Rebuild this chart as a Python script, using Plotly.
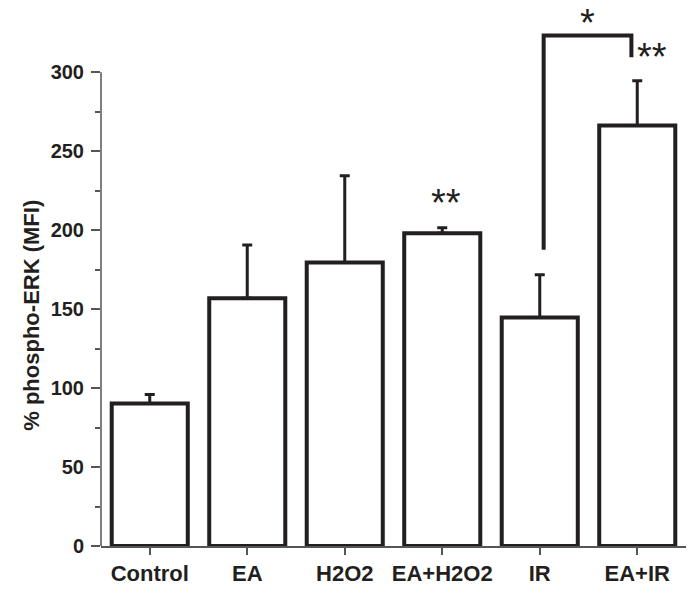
import plotly.graph_objects as go

categories = ["Control", "EA", "H2O2", "EA+H2O2", "IR", "EA+IR"]
means = [90.2, 156.8, 179.5, 198.0, 144.6, 266.2]
err_up = [5.7, 33.8, 55.0, 3.5, 27.1, 28.4]

y_ticks = [0, 50, 100, 150, 200, 250, 300]
y_minor = [25, 75, 125, 175, 225, 275]

# significance markers
sig_labels = ["**", "*", "**"]
sig_x = [3.043, 4.494, 5.156]
sig_y = [217.1, 331.4, 309.4]
bracket_x = [4.04, 4.94]
bracket_y = [187.6, 323.2, 309.5]  # left bottom, top, right bottom

INK = "#231f20"
AX = "#555555"
FONT = "Liberation Sans, Arial, sans-serif"

fig = go.Figure()
fig.add_trace(go.Bar(
    x=list(range(len(categories))), y=means,
    width=0.78,
    marker=dict(color="white", line=dict(color=INK, width=4)),
    error_y=dict(type="data", symmetric=False, array=err_up,
                 arrayminus=[0] * len(means), color=INK, thickness=3, width=5),
    showlegend=False,
))

# bracket
fig.add_shape(type="path",
              path=f"M {bracket_x[0]},{bracket_y[0]} L {bracket_x[0]},{bracket_y[1]} "
                   f"L {bracket_x[1]},{bracket_y[1]} L {bracket_x[1]},{bracket_y[2]}",
              xref="x", yref="y", line=dict(color=INK, width=4))

# y axis line from 0 to 300
fig.add_shape(type="line", xref="paper", yref="y", x0=0, x1=0,
              y0=y_ticks[0], y1=y_ticks[-1], line=dict(color=AX, width=1.5))

for lab, xv, yv in zip(sig_labels, sig_x, sig_y):
    fig.add_annotation(x=xv, y=yv, xref="x", yref="y", text=lab, showarrow=False,
                       font=dict(family=FONT, size=38, color=INK),
                       xanchor="center", yanchor="middle")

fig.add_annotation(x=-0.118, y=0.4306, xref="paper", yref="paper",
                   text="% phospho-ERK (MFI)", textangle=-90, showarrow=False,
                   font=dict(family=FONT, size=22, color=INK, weight="bold"),
                   xanchor="center", yanchor="middle")

fig.update_layout(
    width=695, height=595,
    margin=dict(l=101, r=9, t=9, b=46.5),
    plot_bgcolor="white", paper_bgcolor="white",
    font=dict(family=FONT, color=INK),
    xaxis=dict(range=[-0.5, 5.5], tickmode="array",
               tickvals=list(range(len(categories))), ticktext=categories,
               showline=True, linecolor=AX, linewidth=1.5,
               ticks="outside", ticklen=7, tickwidth=1.5, tickcolor=AX,
               tickfont=dict(family=FONT, size=22, color=INK, weight="bold"),
               showgrid=False, zeroline=False),
    yaxis=dict(range=[0, 340], tickmode="array", tickvals=y_ticks,
               showline=False,
               ticks="outside", ticklen=9, tickwidth=1.5, tickcolor=AX,
               ticklabelstandoff=3,
               tickfont=dict(family=FONT, size=20, color=INK, weight="bold"),
               minor=dict(tickmode="array", tickvals=y_minor, ticks="outside",
                          ticklen=5, tickwidth=1.5, tickcolor=AX, showgrid=False),
               showgrid=False, zeroline=False),
)

fig.write_html("out.html",
               config={"displayModeBar": False},
               post_script="document.body.style.margin='0';document.body.style.overflow='hidden';")
